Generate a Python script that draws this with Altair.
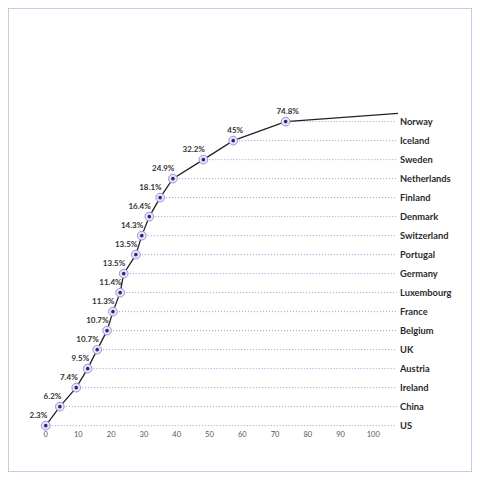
import altair as alt
import pandas as pd

# ---- data ----
countries = ["Norway", "Iceland", "Sweden", "Netherlands", "Finland", "Denmark",
             "Switzerland", "Portugal", "Germany", "Luxembourg", "France", "Belgium",
             "UK", "Austria", "Ireland", "China", "US"]
values = [74.8, 45, 32.2, 24.9, 18.1, 16.4, 14.3, 13.5, 13.5, 11.4, 11.3, 10.7,
          10.7, 9.5, 7.4, 6.2, 2.3]
# horizontal position of each point on the drawn curve
curve_x = [73.4, 57.4, 48.3, 39.0, 35.1, 31.8, 29.5, 27.7, 24.0, 22.9, 20.7,
           18.9, 15.9, 13.0, 9.5, 4.5, 0.2]
# the curve continues past Norway to the right edge
tail_x = 107.7
tail_rank = -0.43
x_ticks = [0, 10, 20, 30, 40, 50, 60, 70, 80, 90, 100]

df = pd.DataFrame({"country": countries, "value": values, "x": curve_x})
df["rank"] = list(range(len(df)))
df["label"] = [f"{v:g}%" for v in values]
line_df = pd.concat([df[["x", "rank"]],
                     pd.DataFrame({"x": [tail_x], "rank": [tail_rank]})],
                    ignore_index=True)

FONT = "Lato"

X = alt.X("x:Q",
          scale=alt.Scale(domain=[-11.32, 130.27], nice=False, zero=False),
          axis=alt.Axis(values=x_ticks, domain=False, ticks=False, tickSize=0,
                        grid=False, labelPadding=0, offset=-41.5, title=None,
                        labelFontSize=7.5, labelColor="#555555", labelFont=FONT))
Y = alt.Y("rank:Q",
          scale=alt.Scale(domain=[-5.98, 18.44], reverse=True, nice=False, zero=False),
          axis=None)

base = alt.Chart(df)

grid = base.mark_rule(color="#a58fdc", strokeDash=[1, 2], strokeWidth=1).encode(
    x=X, x2=alt.datum(107.3), y=Y)

line = alt.Chart(line_df).mark_line(color="#222222", strokeWidth=1.3).encode(
    x=X, y=Y)

rings = base.mark_circle(size=76, color="#e9e5f6", stroke="#9c92cf",
                         strokeWidth=1, opacity=1).encode(x=X, y=Y)
dots = base.mark_circle(size=13, color="#2a2383", opacity=1).encode(x=X, y=Y)

lab_right = base.transform_filter("datum.x < 50").mark_text(
    align="right", baseline="middle", dx=1.5, dy=-9.5, fontSize=8,
    fontWeight="bold", font=FONT, color="#333333").encode(x=X, y=Y, text="label:N")
lab_center = base.transform_filter("datum.x >= 50").mark_text(
    align="center", baseline="middle", dx=2, dy=-9.5, fontSize=8,
    fontWeight="bold", font=FONT, color="#333333").encode(x=X, y=Y, text="label:N")

names = base.mark_text(align="left", baseline="middle", fontSize=9.3,
                       fontWeight="bold", font=FONT, color="#2b2b2b").encode(
    x=alt.datum(108.3), y=Y, text="country:N")

chart = alt.layer(grid, line, rings, dots, lab_right, lab_center, names).properties(
    width=464, height=464, padding=0,
    autosize=alt.AutoSizeParams(type="none"),
    background="white",
).configure_view(stroke="#bdb6e0", strokeWidth=1.5)

chart.save("out.html", embed_options={"renderer": "svg", "actions": False})
